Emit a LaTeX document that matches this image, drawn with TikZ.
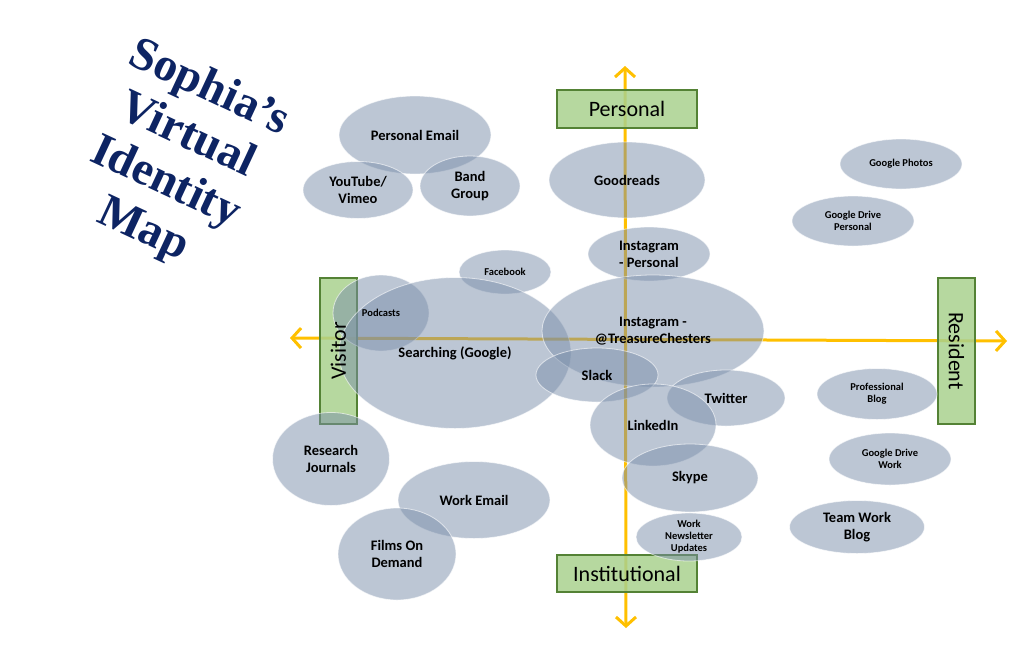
\documentclass[tikz,border=0pt]{standalone}
\usepackage{fontspec}
\setmainfont{Carlito}
\newfontfamily\titlefont{Liberation Serif}
\usetikzlibrary{arrows.meta,shapes.geometric}
\definecolor{axisyellow}{HTML}{FFC000}
\definecolor{boxgreen}{HTML}{A9D18E}
\definecolor{boxedge}{HTML}{548235}
\definecolor{bubblecol}{HTML}{7A8EAA}
\definecolor{titleblue}{HTML}{0D2463}
\tikzset{
  bubble/.style={ellipse, fill=bubblecol, fill opacity=0.5, draw=white, draw opacity=0.6, line width=0.8pt, inner sep=0pt},
  bigtext/.style={font=\bfseries\fontsize{14.5}{17}\selectfont, align=center, text=black},
  smalltext/.style={font=\bfseries\fontsize{10.5}{12}\selectfont, align=center, text=black},
  axisbox/.style={rectangle, draw=boxedge, line width=1.2pt, fill=boxgreen, fill opacity=0.85, inner sep=0pt},
  axislabel/.style={font=\fontsize{22}{26}\selectfont, text=black},
  axisline/.style={draw=axisyellow, line width=3pt, arrows={Straight Barb[length=9pt,width=20pt]-Straight Barb[length=9pt,width=20pt]}}
}
\begin{document}
\begin{tikzpicture}[x=1pt,y=-1pt]
\useasboundingbox (0,0) rectangle (1024,645);
% axes
\coordinate (xl) at (290,338);
\coordinate (xr) at (1007,341);
\coordinate (yt) at (625,66);
\coordinate (yb) at (626,628);
\draw[axisline] (xl) -- (xr);
\draw[axisline] (yt) -- (yb);
% boxes
\node[axisbox, minimum width=140pt, minimum height=38pt] (personal) at (627,109) {};
\node[axisbox, minimum width=140pt, minimum height=37pt] (institutional) at (627,573.5) {};
\node[axisbox, minimum width=37pt, minimum height=146pt] (visitor) at (338.5,351) {};
\node[axisbox, minimum width=37pt, minimum height=146pt] (resident) at (956.5,351) {};
% bubbles
\node[bubble, minimum width=152pt, minimum height=78pt] (pemail) at (415,135) {};
\node[bubble, minimum width=110pt, minimum height=57pt] (youtube) at (358,190) {};
\node[bubble, minimum width=100pt, minimum height=60pt] (band) at (470,186) {};
\node[bubble, minimum width=156pt, minimum height=76pt] (goodreads) at (627,180) {};
\node[bubble, minimum width=122pt, minimum height=50pt] (gphotos) at (901,164) {};
\node[bubble, minimum width=122pt, minimum height=50pt] (gdrivep) at (853,221) {};
\node[bubble, minimum width=122pt, minimum height=54pt] (instap) at (649,254) {};
\node[bubble, minimum width=92pt, minimum height=44pt] (facebook) at (505,272) {};
\node[bubble, minimum width=96pt, minimum height=76pt] (podcasts) at (381,313) {};
\node[bubble, minimum width=232pt, minimum height=151pt] (searching) at (455,353) {};
\node[bubble, minimum width=222pt, minimum height=112pt] (instat) at (653,331) {};
\node[bubble, minimum width=122pt, minimum height=54pt] (slack) at (597,375) {};
\node[bubble, minimum width=118pt, minimum height=56pt] (twitter) at (726,398) {};
\node[bubble, minimum width=126pt, minimum height=82pt] (linkedin) at (653,425) {};
\node[bubble, minimum width=120pt, minimum height=51pt] (pblog) at (877,394) {};
\node[bubble, minimum width=117pt, minimum height=93pt] (research) at (331,459) {};
\node[bubble, minimum width=122pt, minimum height=52pt] (gdrivew) at (890,459) {};
\node[bubble, minimum width=136pt, minimum height=68pt] (skype) at (690,478) {};
\node[bubble, minimum width=152pt, minimum height=77pt] (wemail) at (474,500) {};
\node[bubble, minimum width=135pt, minimum height=53pt] (teamblog) at (857,527) {};
\node[bubble, minimum width=106pt, minimum height=48pt] (newsletter) at (689,537) {};
\node[bubble, minimum width=118pt, minimum height=92pt] (films) at (397,554) {};
% bubble texts
\node[bigtext] at (pemail) {Personal Email};
\node[bigtext] at (youtube) {YouTube/\\Vimeo};
\node[bigtext] at (band) {Band\\Group};
\node[bigtext] at (goodreads) {Goodreads};
\node[smalltext] at (gphotos) {Google Photos};
\node[smalltext] at (gdrivep) {Google Drive\\Personal};
\node[bigtext] at (instap) {Instagram\\- Personal};
\node[smalltext] at (facebook) {Facebook};
\node[smalltext] at (podcasts) {Podcasts};
\node[bigtext] at (searching) {Searching (Google)};
\node[bigtext] at (instat) {Instagram -\\@TreasureChesters};
\node[bigtext] at (slack) {Slack};
\node[bigtext] at (twitter) {Twitter};
\node[bigtext] at (linkedin) {LinkedIn};
\node[smalltext] at (pblog) {Professional\\Blog};
\node[bigtext] at (research) {Research\\Journals};
\node[smalltext] at (gdrivew) {Google Drive\\Work};
\node[bigtext] at (skype) {Skype};
\node[bigtext] at (wemail) {Work Email};
\node[bigtext] at (teamblog) {Team Work\\Blog};
\node[smalltext] at (newsletter) {Work\\Newsletter\\Updates};
\node[bigtext] at (films) {Films On\\Demand};
% axis labels
\node[axislabel] at (personal) {Personal};
\node[axislabel] at (institutional) {Institutional};
\node[axislabel, rotate=90] at (visitor) {Visitor};
\node[axislabel, rotate=-90] at (resident) {Resident};
% title
\node[font=\titlefont\bfseries\fontsize{47}{52}\selectfont, text=titleblue, align=center, rotate=-25] (title) at (176,160) {Sophia’s\\Virtual\\Identity\\Map};
\end{tikzpicture}
\end{document}
